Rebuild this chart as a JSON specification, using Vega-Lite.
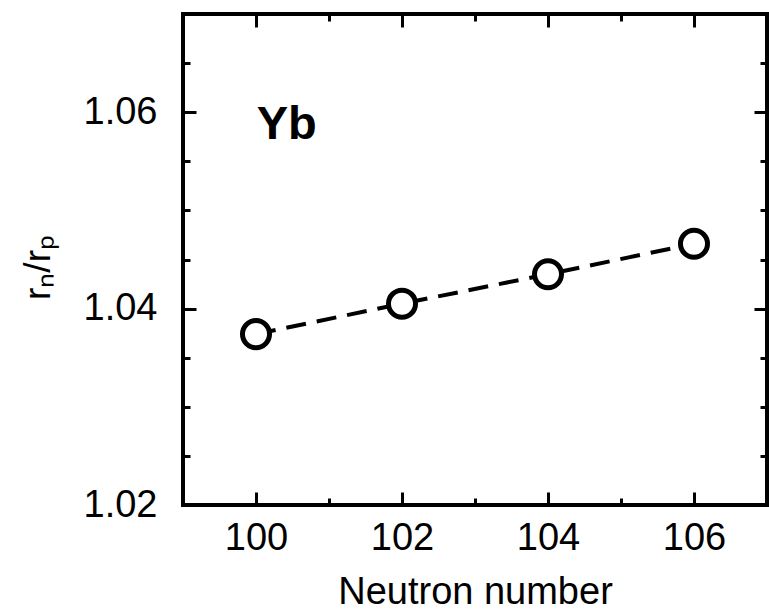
{
  "$schema": "https://vega.github.io/schema/vega-lite/v6.json",
  "width": 584,
  "height": 491,
  "autosize": {"type": "none"},
  "padding": {"left": 183, "top": 14, "right": 2, "bottom": 107},
  "background": "white",
  "config": {
    "view": {"stroke": "black", "strokeWidth": 4},
    "font": "Liberation Sans",
    "axis": {
      "grid": false,
      "domain": false,
      "tickColor": "black",
      "tickWidth": 3,
      "labelColor": "black",
      "titleColor": "black",
      "labelFont": "Liberation Sans",
      "titleFont": "Liberation Sans",
      "labelFontSize": 38,
      "titleFontSize": 38,
      "titleFontWeight": "normal"
    }
  },
  "data": {
    "values": [
      {"N": 100, "ratio": 1.0374},
      {"N": 102, "ratio": 1.0405},
      {"N": 104, "ratio": 1.0435},
      {"N": 106, "ratio": 1.0466}
    ]
  },
  "resolve": {"axis": {"x": "independent", "y": "independent"}},
  "layer": [
    {
      "mark": {"type": "line", "color": "black", "strokeWidth": 4, "strokeDash": [20, 11]},
      "encoding": {
        "x": {
          "field": "N", "type": "quantitative",
          "scale": {"domain": [99, 107], "nice": false, "zero": false},
          "axis": {"orient": "bottom", "values": [100, 102, 104, 106], "tickSize": -13, "labelPadding": 27, "format": "d", "title": "Neutron number", "titlePadding": 16}
        },
        "y": {
          "field": "ratio", "type": "quantitative",
          "scale": {"domain": [1.02, 1.07], "nice": false, "zero": false},
          "axis": {"orient": "left", "values": [1.02, 1.04, 1.06], "tickSize": -13, "labelPadding": 39, "format": ".2f", "title": "rₙ/rₚ", "titleFontSize": 37, "titlePadding": 26, "titleY": 253}
        }
      }
    },
    {
      "mark": {"type": "point", "filled": true, "fill": "white", "stroke": "black", "strokeWidth": 5, "size": 730, "opacity": 1},
      "encoding": {
        "x": {"field": "N", "type": "quantitative", "axis": {"orient": "bottom", "values": [101, 103, 105], "tickSize": -7, "labels": false, "title": null}},
        "y": {"field": "ratio", "type": "quantitative", "axis": {"orient": "left", "values": [1.025, 1.03, 1.035, 1.045, 1.05, 1.055, 1.065], "tickSize": -7, "labels": false, "title": null}}
      }
    },
    {
      "data": {"values": [{"N": 100.42, "ratio": 1.0587, "label": "Yb"}]},
      "mark": {"type": "text", "font": "Liberation Sans", "fontSize": 47, "fontWeight": "bold", "color": "black", "align": "center", "baseline": "middle"},
      "encoding": {
        "x": {"field": "N", "type": "quantitative", "axis": {"orient": "top", "values": [100, 102, 104, 106], "tickSize": -13, "labels": false, "title": null}},
        "y": {"field": "ratio", "type": "quantitative", "axis": {"orient": "right", "values": [1.02, 1.04, 1.06], "tickSize": -13, "labels": false, "title": null}},
        "text": {"field": "label", "type": "nominal"}
      }
    },
    {
      "mark": {"type": "point", "opacity": 0},
      "encoding": {
        "x": {"field": "N", "type": "quantitative", "axis": {"orient": "top", "values": [101, 103, 105], "tickSize": -7, "labels": false, "title": null}},
        "y": {"field": "ratio", "type": "quantitative", "axis": {"orient": "right", "values": [1.025, 1.03, 1.035, 1.045, 1.05, 1.055, 1.065], "tickSize": -7, "labels": false, "title": null}}
      }
    }
  ]
}
